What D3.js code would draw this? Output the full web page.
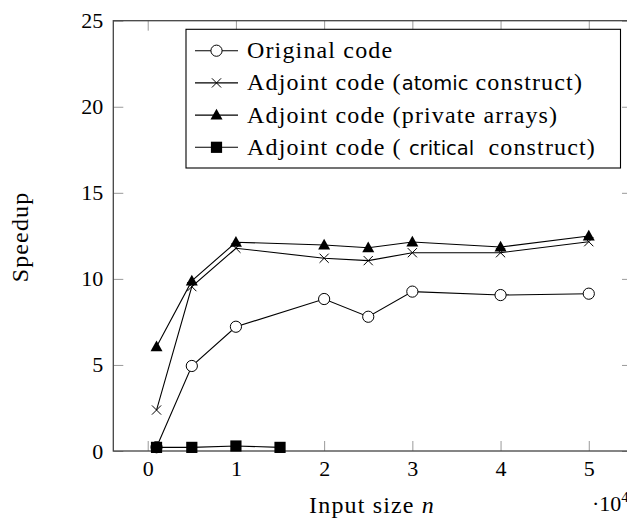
<!DOCTYPE html>
<html>
<head>
<script src="https://cdn.jsdelivr.net/npm/d3@7"></script>
</head>
<body style="margin:0">
<div id="chart"></div>
<script>
// Data (input size in units of 10^4)
const inputSizes = [0.1, 0.5, 1, 2, 2.5, 3, 4, 5];
const criticalSizes = [0.1, 0.5, 1, 1.5];
const originalCode = [0.22, 4.94, 7.22, 8.83, 7.8, 9.26, 9.06, 9.14];
const atomicCode = [2.38, 9.55, 11.78, 11.2, 11.06, 11.52, 11.52, 12.16];
const privateCode = [6.06, 9.88, 12.13, 11.97, 11.81, 12.14, 11.85, 12.49];
const criticalCode = [0.21, 0.21, 0.29, 0.21];
const xTicks = [0, 1, 2, 3, 4, 5];
const yTicks = [0, 5, 10, 15, 20, 25];

const width = 627;
const height = 518;
const fontSize = 24;
const tickFont = 22;
const spacing = 1.15;
const serif = "Liberation Serif";
const sans = "DejaVu Sans";

const svg = d3.select("#chart")
    .append("svg")
    .attr("width", width)
    .attr("height", height)
    .style("font-family", `"${serif}"`);

// Scales (x domain enlarged like pgfplots does)
const x = d3.scaleLinear().domain([-0.39, 5.49]).range([113.3, 632]);
const y = d3.scaleLinear().domain([0, 25]).range([451, 20.7]);

const tickLen = 10;

// Axes with inward ticks on all four sides
function styleAxis(g) {
    g.attr("font-family", null).attr("font-size", null);
    g.select(".domain").remove();
    g.selectAll(".tick line").attr("stroke", "#9a9a9a").attr("stroke-width", 1);
    g.selectAll(".tick text")
        .style("font-family", () => `"${serif}"`)
        .style("font-size", tickFont + "px")
        .attr("fill", "#000");
}

svg.append("g")
    .attr("transform", `translate(0,${y(0)})`)
    .call(d3.axisBottom(x).tickValues(xTicks).tickSize(-tickLen).tickPadding(9).tickFormat(d3.format("d")))
    .call(styleAxis);

svg.append("g")
    .attr("transform", `translate(0,${y(25)})`)
    .call(d3.axisTop(x).tickValues(xTicks).tickSize(-tickLen).tickFormat(""))
    .call(styleAxis);

svg.append("g")
    .attr("transform", `translate(${x.range()[0]},0)`)
    .call(d3.axisLeft(y).tickValues(yTicks).tickSize(-tickLen).tickPadding(10))
    .call(styleAxis);

svg.append("g")
    .attr("transform", `translate(${x.range()[1]},0)`)
    .call(d3.axisRight(y).tickValues(yTicks).tickSize(-tickLen).tickFormat(""))
    .call(styleAxis);

// Frame
svg.append("rect")
    .attr("x", x.range()[0])
    .attr("y", y(25))
    .attr("width", x.range()[1] - x.range()[0])
    .attr("height", y(0) - y(25))
    .attr("fill", "none")
    .attr("stroke", "#444")
    .attr("stroke-width", 1.3);

// Markers
function drawMarker(g, type, cx, cy) {
    if (type === "circle") {
        g.append("circle").attr("cx", cx).attr("cy", cy).attr("r", 5.6)
            .attr("fill", "#fff").attr("stroke", "#000").attr("stroke-width", 1);
    } else if (type === "cross") {
        const s = 4.6;
        g.append("path")
            .attr("d", `M${cx - s},${cy - s}L${cx + s},${cy + s}M${cx - s},${cy + s}L${cx + s},${cy - s}`)
            .attr("stroke", "#000").attr("stroke-width", 1);
    } else if (type === "triangle") {
        const s = 6;
        g.append("path")
            .attr("d", `M${cx},${cy - s * 1.05}L${cx + s},${cy + s * 0.75}L${cx - s},${cy + s * 0.75}Z`)
            .attr("fill", "#000");
    } else if (type === "square") {
        const s = 5.6;
        g.append("rect").attr("x", cx - s).attr("y", cy - s).attr("width", 2 * s).attr("height", 2 * s)
            .attr("fill", "#000");
    }
}

const series = [
    { xs: inputSizes, ys: originalCode, marker: "circle" },
    { xs: inputSizes, ys: atomicCode, marker: "cross" },
    { xs: inputSizes, ys: privateCode, marker: "triangle" },
    { xs: criticalSizes, ys: criticalCode, marker: "square" }
];

const line = d3.line().x(d => x(d[0])).y(d => y(d[1]));

series.forEach(s => {
    const pts = s.xs.map((v, i) => [v, s.ys[i]]);
    const g = svg.append("g");
    g.append("path")
        .attr("d", line(pts))
        .attr("fill", "none")
        .attr("stroke", "#000")
        .attr("stroke-width", 1.1);
    pts.forEach(p => drawMarker(g, s.marker, x(p[0]), y(p[1])));
});

// Legend
const legend = svg.append("g");
legend.append("rect")
    .attr("x", 186).attr("y", 29.3)
    .attr("width", 434.5).attr("height", 138.7)
    .attr("fill", "#fff")
    .attr("stroke", "#000")
    .attr("stroke-width", 1.1);

const legendRows = [
    { marker: "circle", parts: [["serif", "Original code"]] },
    { marker: "cross", parts: [["serif", "Adjoint code ("], ["sans", "atomic"], ["serif", " construct)"]] },
    { marker: "triangle", parts: [["serif", "Adjoint code (private arrays)"]] },
    { marker: "square", parts: [["serif", "Adjoint code ( "], ["sans", "critical"], ["serif", "\u00a0 construct)"]] }
];

legendRows.forEach((row, i) => {
    const cy = 50.7 + i * 32.2;
    const g = legend.append("g");
    g.append("line")
        .attr("x1", 195).attr("x2", 238)
        .attr("y1", cy).attr("y2", cy)
        .attr("stroke", "#000").attr("stroke-width", 1.1);
    drawMarker(g, row.marker, 216.5, cy);
    const t = g.append("text")
        .attr("x", 247).attr("y", cy + 7.5)
        .style("font-size", fontSize + "px");
    row.parts.forEach(p => {
        t.append("tspan")
            .style("font-family", () => `"${p[0] === "sans" ? sans : serif}"`)
            .style("font-size", (p[0] === "sans" ? 19.5 : fontSize) + "px")
            .style("letter-spacing", (p[0] === "sans" ? 0 : spacing) + "px")
            .text(p[1]);
    });
});

// Axis titles
const xTitle = svg.append("text")
    .attr("x", 372).attr("y", 513)
    .attr("text-anchor", "middle")
    .style("font-size", fontSize + "px")
    .style("letter-spacing", spacing + "px");
xTitle.append("tspan").text("Input size ");
xTitle.append("tspan").style("font-style", "italic").text("n");

svg.append("text")
    .attr("transform", "translate(28,237) rotate(-90)")
    .attr("text-anchor", "middle")
    .style("font-size", fontSize + "px")
    .style("letter-spacing", spacing + "px")
    .text("Speedup");

const mult = svg.append("text")
    .attr("x", 592).attr("y", 511)
    .style("font-size", tickFont + "px");
mult.append("tspan").text("\u00b710");
mult.append("tspan").style("font-size", "15px").attr("dy", -9).text("4");
</script>
</body>
</html>
